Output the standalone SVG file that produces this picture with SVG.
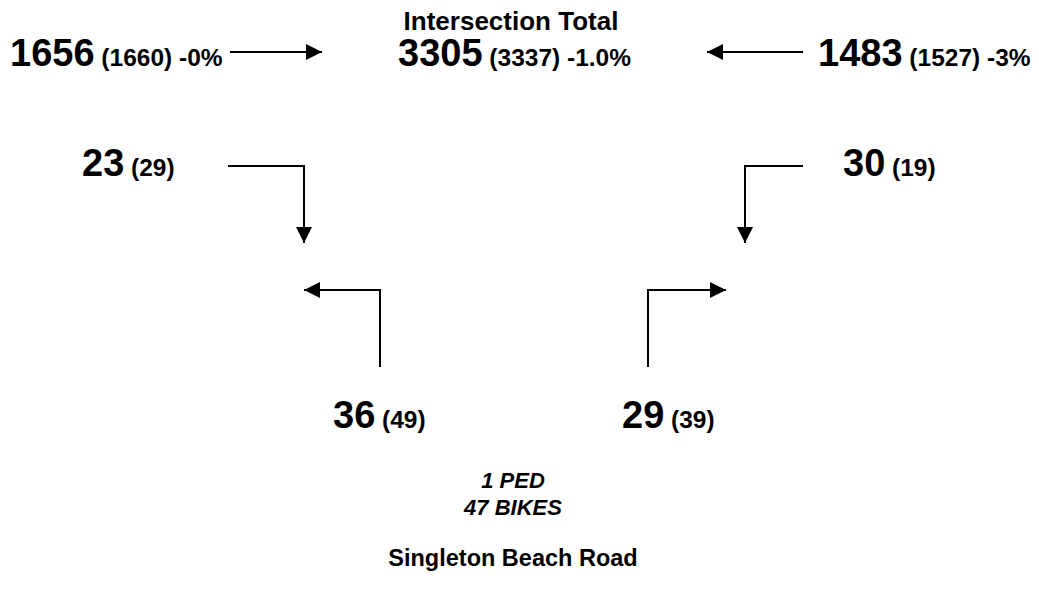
<svg xmlns="http://www.w3.org/2000/svg" width="1039" height="597" viewBox="0 0 1039 597">
<defs>
<style>
.t{font-family:"Liberation Sans",Arial,sans-serif;font-weight:bold;fill:#000}
.big{font-size:38px}
.sm{font-size:24.5px}
.hd{font-size:26px}
.rd{font-size:23.5px}
.it{font-size:22px;font-style:italic}
.ln{fill:none;stroke:#000;stroke-width:2}
</style>
<marker id="ah" viewBox="0 0 16 16" refX="16" refY="8" markerWidth="16" markerHeight="16" markerUnits="userSpaceOnUse" orient="auto">
<path d="M0,0 L16,8 L0,16 Z" fill="#000"/>
</marker>
</defs>
<rect width="1039" height="597" fill="#fff"/>
<g id="total">
<text class="t hd" x="511" y="30" text-anchor="middle">Intersection Total</text>
<text class="t" x="398" y="66"><tspan class="big">3305</tspan><tspan class="sm"> (3337) -1.0%</tspan></text>
</g>
<g id="west">
<text class="t" x="10" y="66"><tspan class="big">1656</tspan><tspan class="sm"> (1660) -0%</tspan></text>
</g>
<g id="east">
<text class="t" x="818" y="66"><tspan class="big">1483</tspan><tspan class="sm"> (1527) -3%</tspan></text>
</g>
<g id="nw">
<text class="t" x="82" y="176"><tspan class="big">23</tspan><tspan class="sm"> (29)</tspan></text>
</g>
<g id="ne">
<text class="t" x="843" y="176"><tspan class="big">30</tspan><tspan class="sm"> (19)</tspan></text>
</g>
<g id="sw">
<text class="t" x="333" y="428"><tspan class="big">36</tspan><tspan class="sm"> (49)</tspan></text>
</g>
<g id="se">
<text class="t" x="622" y="428"><tspan class="big">29</tspan><tspan class="sm"> (39)</tspan></text>
</g>
<g id="notes">
<text class="t it" x="513" y="488" text-anchor="middle">1 PED</text>
<text class="t it" x="513" y="515" text-anchor="middle">47 BIKES</text>
</g>
<g id="road">
<text class="t rd" x="513" y="566" text-anchor="middle">Singleton Beach Road</text>
</g>
<g id="connectors">
<path class="ln" d="M230,52 H322" marker-end="url(#ah)"/>
<path class="ln" d="M803,52 H707" marker-end="url(#ah)"/>
<path class="ln" d="M228,166 H304 V243" marker-end="url(#ah)"/>
<path class="ln" d="M803,166 H745 V243" marker-end="url(#ah)"/>
<path class="ln" d="M380,367 V290 H304" marker-end="url(#ah)"/>
<path class="ln" d="M648,367 V290 H726" marker-end="url(#ah)"/>
</g>
</svg>
